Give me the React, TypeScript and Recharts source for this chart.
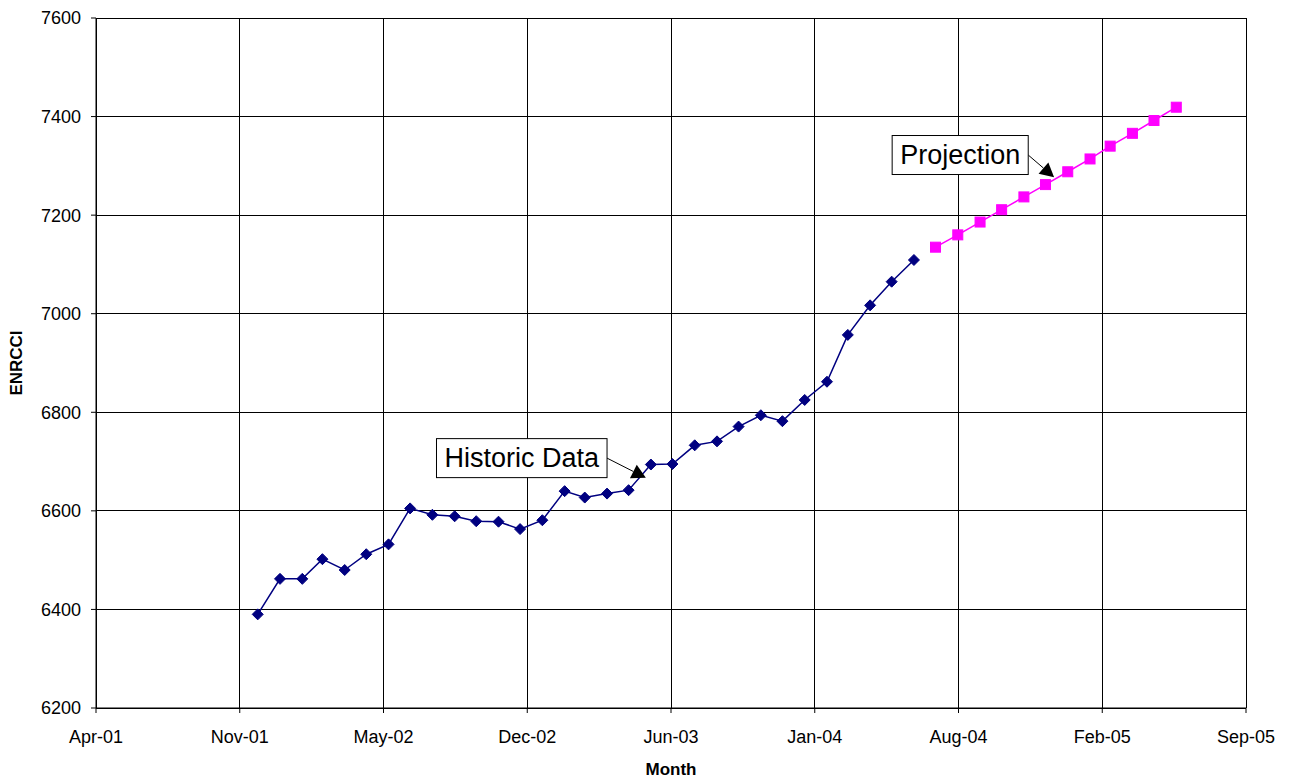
import React from 'react';
import { LineChart, Line, XAxis, YAxis, CartesianGrid, ReferenceLine, Label } from 'recharts';

// ---- data ----
const BASE_DATE = '2001-04-20';
const tickLabels = ['Apr-01', 'Nov-01', 'May-02', 'Dec-02', 'Jun-03', 'Jan-04', 'Aug-04', 'Feb-05', 'Sep-05'];
const tickStepDays = 200;
const yTicks = [6200, 6400, 6600, 6800, 7000, 7200, 7400, 7600];

const historicMonths = [
  '2001-12', '2002-01', '2002-02', '2002-03', '2002-04', '2002-05', '2002-06', '2002-07',
  '2002-08', '2002-09', '2002-10', '2002-11', '2002-12', '2003-01', '2003-02', '2003-03',
  '2003-04', '2003-05', '2003-06', '2003-07', '2003-08', '2003-09', '2003-10', '2003-11',
  '2003-12', '2004-01', '2004-02', '2004-03', '2004-04', '2004-05', '2004-06',
];
const historicValues = [
  6390, 6462, 6462, 6502, 6480, 6512, 6532, 6605,
  6592, 6589, 6579, 6578, 6563, 6581, 6640, 6627,
  6635, 6642, 6694, 6695, 6733, 6741, 6771, 6794,
  6782, 6825, 6862, 6957, 7017, 7065, 7109,
];

const projectionMonths = [
  '2004-07', '2004-08', '2004-09', '2004-10', '2004-11', '2004-12',
  '2005-01', '2005-02', '2005-03', '2005-04', '2005-05', '2005-06',
];
const projectionValues = [7135, 7160, 7186, 7211, 7237, 7262, 7288, 7314, 7340, 7366, 7392, 7419];

// annotations: label, tail (day offset, value), tip (day offset, value)
const annotationLabels = ['Historic Data', 'Projection'];
const annotationTails = [[711, 6707], [1297, 7322]];
const annotationTips = [[765, 6667], [1333, 7277]];

// ---- helpers ----
const dayOffset = (ym: string) => {
  const [b, bm, bd] = BASE_DATE.split('-').map(Number);
  const [y, m] = ym.split('-').map(Number);
  return Math.round((Date.UTC(y, m - 1, 1) - Date.UTC(b, bm - 1, bd)) / 86400000);
};

const rows: any[] = [];
historicMonths.forEach((m, i) => rows.push({ day: dayOffset(m), hist: historicValues[i], proj: null }));
projectionMonths.forEach((m, i) => rows.push({ day: dayOffset(m), hist: null, proj: projectionValues[i] }));

const xTicks = tickLabels.map((_, i) => i * tickStepDays);

const FONT = "'Liberation Sans', Arial, sans-serif";
const NAVY = '#000080';
const MAGENTA = '#FF00FF';

let measureCtx: CanvasRenderingContext2D | null = null;
const measure = (text: string, size: number) => {
  try {
    if (!measureCtx) measureCtx = document.createElement('canvas').getContext('2d');
    if (measureCtx) {
      measureCtx.font = `${size}px 'Liberation Sans', Arial, sans-serif`;
      return measureCtx.measureText(text).width;
    }
  } catch (e) {}
  return text.length * size * 0.55;
};

const Diamond = (props: any) => {
  const { cx, cy, index } = props;
  if (cx == null || cy == null || props.value == null) return <g key={`d${index}`} />;
  const r = 5.5;
  return (
    <polygon
      key={`d${index}`}
      points={`${cx},${cy - r} ${cx + r},${cy} ${cx},${cy + r} ${cx - r},${cy}`}
      fill={NAVY}
      stroke={NAVY}
      strokeWidth={1}
    />
  );
};

const Square = (props: any) => {
  const { cx, cy, index } = props;
  if (cx == null || cy == null || props.value == null) return <g key={`s${index}`} />;
  const s = 5;
  return <rect key={`s${index}`} x={cx - s} y={cy - s} width={2 * s} height={2 * s} fill={MAGENTA} stroke={MAGENTA} />;
};

const makeAnnotation = (label: string) => (props: any) => {
  const { x1, y1, x2, y2 } = props;
  const fontSize = 27;
  const pad = 8;
  const tw = measure(label, fontSize);
  const bw = tw + pad * 2;
  const bh = 39;
  const dx = x2 - x1;
  const dy = y2 - y1;
  const len = Math.sqrt(dx * dx + dy * dy) || 1;
  const ux = dx / len;
  const uy = dy / len;
  const headLen = 14;
  const headHalf = 7.5;
  const bx = x2 - ux * headLen;
  const by = y2 - uy * headLen;
  const nx = -uy;
  const ny = ux;
  return (
    <g>
      <line x1={x1} y1={y1} x2={bx} y2={by} stroke="#000" strokeWidth={1} />
      <polygon
        points={`${x2},${y2} ${bx + nx * headHalf},${by + ny * headHalf} ${bx - nx * headHalf},${by - ny * headHalf}`}
        fill="#000"
      />
      <rect x={x1 - bw} y={y1 - bh / 2} width={bw} height={bh} fill="#fff" stroke="#000" strokeWidth={1} />
      <text
        x={x1 - bw / 2}
        y={y1}
        textAnchor="middle"
        dominantBaseline="central"
        fontFamily={FONT}
        fontSize={fontSize}
        fill="#000"
      >
        {label}
      </text>
    </g>
  );
};

export default function App() {
  return (
    <div style={{ width: 1284, height: 770, background: '#fff' }}>
      <LineChart
        width={1284}
        height={770}
        data={rows}
        margin={{ top: 10, right: 46, left: 0, bottom: 0 }}
        style={{ fontFamily: FONT }}
      >
        <CartesianGrid stroke="#000" strokeWidth={1} vertical horizontal shapeRendering="crispEdges" />
        <XAxis
          dataKey="day"
          type="number"
          domain={[0, tickStepDays * (tickLabels.length - 1)]}
          ticks={xTicks}
          tickFormatter={(v: number) => tickLabels[Math.round(v / tickStepDays)]}
          interval={0}
          height={70}
          stroke="#000"
          tickSize={5}
          tickMargin={17}
          tick={{ fill: '#000', fontSize: 18, fontFamily: FONT }}
          tickLine={{ stroke: '#000' }}
          axisLine={{ stroke: '#000' }}
        >
          <Label
            content={(p: any) => {
              const vb = p.viewBox || {};
              return (
                <text
                  x={vb.x + vb.width / 2}
                  y={vb.y + vb.height - 3}
                  textAnchor="middle"
                  fontFamily={FONT}
                  fontWeight="bold"
                  fontSize={17}
                  fill="#000"
                >
                  Month
                </text>
              );
            }}
          />
        </XAxis>
        <YAxis
          type="number"
          domain={[6200, 7600]}
          ticks={yTicks}
          interval={0}
          width={88}
          stroke="#000"
          tickSize={5}
          tickMargin={10}
          tick={{ fill: '#000', fontSize: 18, fontFamily: FONT }}
          tickLine={{ stroke: '#000' }}
          axisLine={{ stroke: '#000' }}
        >
          <Label
            content={(p: any) => {
              const vb = p.viewBox || {};
              const cx = 8;
              const cy = vb.y + vb.height / 2;
              return (
                <text
                  x={cx}
                  y={cy}
                  transform={`rotate(-90, ${cx}, ${cy})`}
                  textAnchor="middle"
                  dominantBaseline="central"
                  fontFamily={FONT}
                  fontWeight="bold"
                  fontSize={17}
                  fill="#000"
                >
                  ENRCCI
                </text>
              );
            }}
          />
        </YAxis>
        <Line
          type="linear"
          dataKey="hist"
          stroke={NAVY}
          strokeWidth={1.5}
          dot={Diamond}
          activeDot={false}
          isAnimationActive={false}
          connectNulls={false}
        />
        <Line
          type="linear"
          dataKey="proj"
          stroke={MAGENTA}
          strokeWidth={1.5}
          dot={Square}
          activeDot={false}
          isAnimationActive={false}
          connectNulls={false}
        />
        {annotationLabels.map((lbl, i) => (
          <ReferenceLine
            key={lbl}
            segment={[
              { x: annotationTails[i][0], y: annotationTails[i][1] },
              { x: annotationTips[i][0], y: annotationTips[i][1] },
            ]}
            ifOverflow="visible"
            shape={makeAnnotation(lbl)}
          />
        ))}
      </LineChart>
    </div>
  );
}
